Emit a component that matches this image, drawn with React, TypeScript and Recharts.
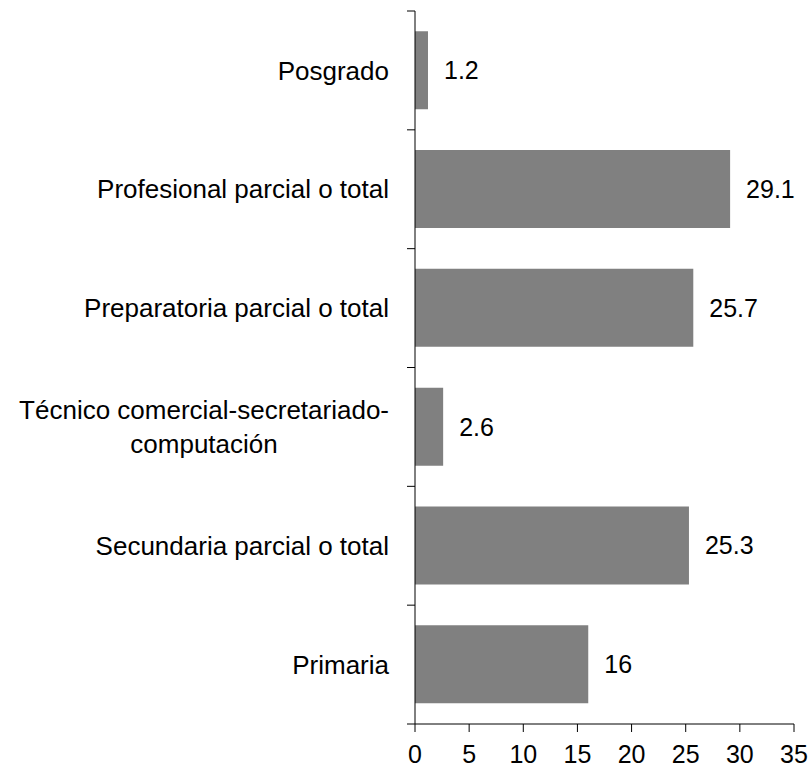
import React from "react";
import { BarChart, Bar, XAxis, YAxis, LabelList } from "recharts";

const categories = [
  "Posgrado",
  "Profesional parcial o total",
  "Preparatoria parcial o total",
  "Técnico comercial-secretariado-computación",
  "Secundaria parcial o total",
  "Primaria",
];
const values = [1.2, 29.1, 25.7, 2.6, 25.3, 16];
const xTicks = [0, 5, 10, 15, 20, 25, 30, 35];

const data = categories.map((name, i) => ({ name, value: values[i] }));

const FONT = "'Liberation Sans', Arial, sans-serif";
const LABEL_SIZE = 26;
const TICK_GAP = 26;

// break long labels after a hyphen like the original
const splitLabel = (s: string): string[] => {
  if (s.length < 30) return [s];
  const idx = s.lastIndexOf("-", 32);
  return idx > 0 ? [s.slice(0, idx + 1), s.slice(idx + 1)] : [s];
};

let ctx: CanvasRenderingContext2D | null = null;
const measure = (t: string) => {
  if (!ctx) ctx = document.createElement("canvas").getContext("2d");
  if (!ctx) return t.length * 13;
  ctx.font = `${LABEL_SIZE}px 'Liberation Sans'`;
  return ctx.measureText(t).width;
};

const CategoryTick = (props: any) => {
  const { x, y, payload, index, visibleTicksCount } = props;
  const half = payload.offset || 0;
  const ax = x + TICK_GAP;
  const lines = splitLabel(payload.value);
  // tick marks sit on the band edges, not the band centres
  const marks = [
    <line key="a" x1={ax - 8} x2={ax} y1={y - half} y2={y - half} stroke="#000" />,
  ];
  if (index === visibleTicksCount - 1) {
    marks.push(<line key="b" x1={ax - 8} x2={ax} y1={y + half} y2={y + half} stroke="#000" />);
  }
  if (lines.length === 1) {
    return (
      <g>
        {marks}
        <text x={x} y={y} dy="0.355em" textAnchor="end" fontSize={LABEL_SIZE} fontFamily={FONT} fill="#000">
          {lines[0]}
        </text>
      </g>
    );
  }
  const w = Math.max(...lines.map(measure));
  const cx = x - w / 2;
  return (
    <g>
      {marks}
      <text textAnchor="middle" fontSize={LABEL_SIZE} fontFamily={FONT} fill="#000">
        <tspan x={cx} y={y - 7.5}>{lines[0]}</tspan>
        <tspan x={cx} y={y + 26}>{lines[1]}</tspan>
      </text>
    </g>
  );
};

export default function App() {
  return (
    <div style={{ position: "fixed", left: 0, top: 0, width: 812, height: 769, background: "#fff" }}>
      <BarChart
        width={812}
        height={769}
        data={data}
        layout="vertical"
        margin={{ top: 11, right: 18, bottom: 0, left: 0 }}
        barCategoryGap="17%"
      >
        <XAxis
          type="number"
          domain={[0, 35]}
          ticks={xTicks}
          interval={0}
          height={45}
          tickSize={8}
          tickMargin={13}
          stroke="#000"
          tick={{ fontSize: 25, fontFamily: FONT, fill: "#000" }}
        />
        <YAxis
          type="category"
          dataKey="name"
          width={415}
          stroke="#000"
          tickLine={false}
          tickSize={0}
          tickMargin={TICK_GAP}
          interval={0}
          tick={<CategoryTick />}
        />
        <Bar dataKey="value" fill="#808080" isAnimationActive={false}>
          <LabelList
            dataKey="value"
            position="right"
            offset={16}
            fill="#000"
            fontSize={25}
            fontFamily={FONT}
          />
        </Bar>
      </BarChart>
    </div>
  );
}
